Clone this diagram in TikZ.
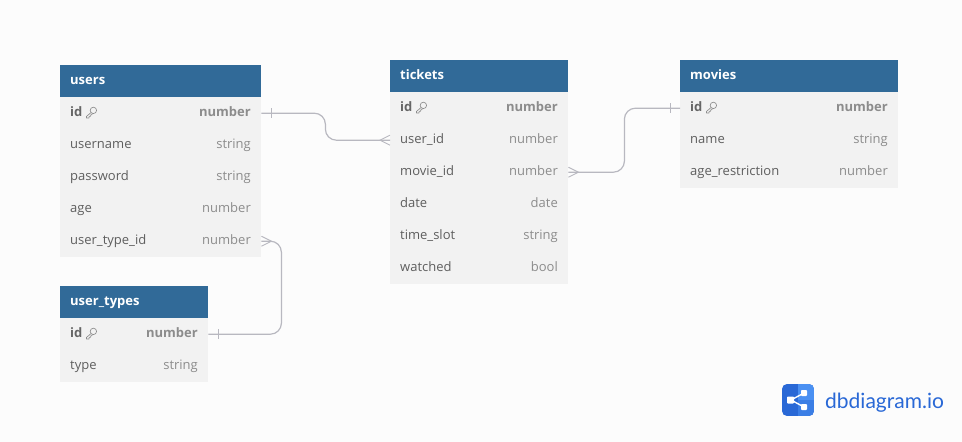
\documentclass[tikz,border=0pt]{standalone}
\usepackage{fontspec}
\setmainfont{Open Sans}
\newfontfamily\logofont{Lato}
\definecolor{bgc}{HTML}{FCFCFC}
\definecolor{headc}{HTML}{316A98}
\definecolor{rowc}{HTML}{F2F2F2}
\definecolor{namec}{HTML}{5E5E5E}
\definecolor{pkc}{HTML}{666666}
\definecolor{typec}{HTML}{8C8C8C}
\definecolor{linec}{HTML}{B8B8C0}
\definecolor{logod}{HTML}{2968D6}
\definecolor{logol}{HTML}{4A90F2}
\tikzset{
  x=1pt,y=-1pt,
  headbox/.style={fill=headc,draw=none,inner sep=0pt,minimum height=32pt,anchor=north west},
  rowbox/.style={fill=rowc,draw=none,inner sep=0pt,minimum height=32pt,anchor=north west},
  headtxt/.style={inner sep=0pt,anchor=base west,text=white,font=\fontsize{13}{15}\selectfont\bfseries},
  nametxt/.style={inner sep=0pt,anchor=base west,text=namec,font=\fontsize{13}{15}\selectfont},
  typetxt/.style={inner sep=0pt,anchor=base east,text=typec,font=\fontsize{13}{15}\selectfont},
  pkname/.style={nametxt,text=pkc,font=\fontsize{13}{15}\selectfont\bfseries},
  pktype/.style={typetxt,font=\fontsize{13}{15}\selectfont\bfseries},
  rel/.style={draw=linec,line width=1.2pt,rounded corners=11pt},
  relmark/.style={draw=linec,line width=0.9pt},
  keyicon/.style={draw=typec,line width=0.65pt,fill=none,line join=round},
}
% name, x, top y, width, title
\newcommand{\tabhead}[5]{%
  \node[headbox,minimum width=#4pt] (#1) at (#2,#3) {};
  \node[headtxt] (#1-title) at (#2+10,#3+19) {#5};
}
% id, x, top y, width, label, type
\newcommand{\tabrow}[6]{%
  \node[rowbox,minimum width=#4pt] (#1) at (#2,#3) {};
  \node[nametxt] (#1-name) at (#2+10,#3+19.5) {#5};
  \node[typetxt] (#1-type) at (#2+#4-10,#3+19.5) {#6};
}
% primary key row
\newcommand{\tabpk}[6]{%
  \node[rowbox,minimum width=#4pt] (#1) at (#2,#3) {};
  \node[pkname] (#1-name) at (#2+10,#3+19) {#5};
  \node[pktype] (#1-type) at (#2+#4-10,#3+19) {#6};
  \begin{scope}[shift={(#2+26,#3+10)}]
    \draw[keyicon] (7.4,3.4) circle (3.2);
    \draw[keyicon] (5,5.6) -- (0.5,9.4) -- (0.5,11) -- (3,11) -- (3.2,9.4) -- (4.6,9.2) -- (4.8,8) -- (6.8,6.6);
  \end{scope}
}
\begin{document}
\begin{tikzpicture}
\useasboundingbox (0,0) rectangle (962,442);
\fill[bgc] (0,0) rectangle (962,442);
% users
\tabhead{users}{60}{65}{201}{users}
\tabpk{users-id}{60}{97}{201}{id}{number}
\tabrow{users-username}{60}{129}{201}{username}{string}
\tabrow{users-password}{60}{161}{201}{password}{string}
\tabrow{users-age}{60}{193}{201}{age}{number}
\tabrow{users-type}{60}{225}{201}{user\_type\_id}{number}
% user_types
\tabhead{ut}{60}{286}{148}{user\_types}
\tabpk{ut-id}{60}{318}{148}{id}{number}
\tabrow{ut-type}{60}{350}{148}{type}{string}
% tickets
\tabhead{tickets}{390}{60}{178}{tickets}
\tabpk{tickets-id}{390}{92}{178}{id}{number}
\tabrow{tickets-user}{390}{124}{178}{user\_id}{number}
\tabrow{tickets-movie}{390}{156}{178}{movie\_id}{number}
\tabrow{tickets-date}{390}{188}{178}{date}{date}
\tabrow{tickets-slot}{390}{220}{178}{time\_slot}{string}
\tabrow{tickets-watched}{390}{252}{178}{watched}{bool}
% movies
\tabhead{movies}{680}{60}{218}{movies}
\tabpk{movies-id}{680}{92}{218}{id}{number}
\tabrow{movies-name}{680}{124}{218}{name}{string}
\tabrow{movies-age}{680}{156}{218}{age\_restriction}{number}
% connectors
\draw[rel] (users-id.east) -- ++(64,0) |- (tickets-user.west);
\draw[rel] (tickets-movie.east) -- ++(56,0) |- (movies-id.west);
\draw[rel] (users-type.east) -- ++(20,0) |- (ut-id.east);
% one marks
\draw[relmark] ([xshift=10pt,yshift=5pt]users-id.east) -- ++(0,10);
\draw[relmark] ([xshift=-10pt,yshift=5pt]movies-id.west) -- ++(0,10);
\draw[relmark] ([xshift=10pt,yshift=5pt]ut-id.east) -- ++(0,10);
% many marks
\draw[relmark] ([yshift=5pt]tickets-user.west) -- ++(-10,5) -- ++(10,5);
\draw[relmark] ([yshift=5pt]tickets-movie.east) -- ++(10,5) -- ++(-10,5);
\draw[relmark] ([yshift=5pt]users-type.east) -- ++(10,5) -- ++(-10,5);
% logo
\begin{scope}
\clip[rounded corners=5pt] (782,384) rectangle (814,416);
\fill[logod] (782,384) rectangle (814,416);
\fill[logol] (798,384) rectangle (814,400);
\fill[logol!55!logod] (798,400) rectangle (814,416);
\end{scope}
\draw[white,line width=1.4pt] (804,393) -- (791,400) -- (804,407);
\fill[white,rounded corners=0.8pt] (787,396.5) rectangle (794,403.5);
\fill[white,rounded corners=0.8pt] (801,390) rectangle (807,396);
\fill[white,rounded corners=0.8pt] (801,404) rectangle (807,410);
\node[inner sep=0pt,anchor=base west,text=logod,font=\logofont\fontsize{21}{24}\selectfont] (logo) at (825,408) {dbdiagram.io};
\end{tikzpicture}
\end{document}
